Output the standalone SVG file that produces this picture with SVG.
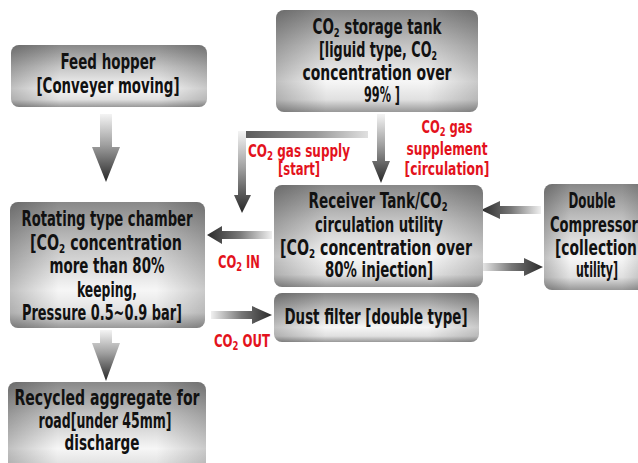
<svg xmlns="http://www.w3.org/2000/svg" width="638" height="463" viewBox="0 0 638 463">
<defs>
<linearGradient id="bv" x1="0" y1="0" x2="0" y2="1">
<stop offset="0" stop-color="#888"/>
<stop offset="0.35" stop-color="#c4c4c4"/>
<stop offset="0.7" stop-color="#f6f6f6"/>
<stop offset="0.88" stop-color="#e0e0e0"/>
<stop offset="1" stop-color="#989898"/>
</linearGradient>
<linearGradient id="bh" x1="0" y1="0" x2="1" y2="0">
<stop offset="0" stop-color="#000" stop-opacity="0.22"/>
<stop offset="0.25" stop-color="#000" stop-opacity="0"/>
<stop offset="0.75" stop-color="#000" stop-opacity="0"/>
<stop offset="1" stop-color="#000" stop-opacity="0.18"/>
</linearGradient>
<linearGradient id="adown" x1="0" y1="0" x2="0" y2="1">
<stop offset="0" stop-color="#f4f4f4"/>
<stop offset="0.45" stop-color="#a0a0a0"/>
<stop offset="1" stop-color="#262626"/>
</linearGradient>
<linearGradient id="aleft" x1="1" y1="0" x2="0" y2="0">
<stop offset="0" stop-color="#f0f0f0"/>
<stop offset="0.5" stop-color="#777"/>
<stop offset="1" stop-color="#2a2a2a"/>
</linearGradient>
<linearGradient id="aright" x1="0" y1="0" x2="1" y2="0">
<stop offset="0" stop-color="#f0f0f0"/>
<stop offset="0.5" stop-color="#777"/>
<stop offset="1" stop-color="#2a2a2a"/>
</linearGradient>
<linearGradient id="abar" x1="0" y1="0" x2="1" y2="0">
<stop offset="0" stop-color="#555"/>
<stop offset="0.6" stop-color="#999"/>
<stop offset="1" stop-color="#e0e0e0"/>
</linearGradient>
</defs>
<style>
.bx{fill:url(#bv)}
.sh{fill:url(#bh)}
.t{font-family:"Liberation Sans Narrow","DejaVu Sans Condensed","Liberation Sans",sans-serif;font-weight:bold;font-size:21px;fill:#111;text-anchor:middle}
.r{font-family:"Liberation Sans Narrow","DejaVu Sans Condensed","Liberation Sans",sans-serif;font-weight:bold;font-size:18px;fill:#e3121c;text-anchor:middle}
.s{font-size:13px}
</style>

<g id="connectors">
<polygon fill="url(#adown)" points="100,114 112,114 112,147 120,147 106,182 92,147 100,147"/>
<polygon fill="url(#adown)" points="377,114 385,114 385,161 390,161 381,183 372,161 377,161"/>
<rect x="238" y="131" width="130" height="7" fill="url(#abar)"/>
<polygon fill="url(#adown)" points="238,131 246,131 246,195 251,195 242,213 234,195 238,195"/>
<polygon fill="url(#aleft)" points="272,231 222,231 222,226 207,235 222,244 222,239 272,239"/>
<polygon fill="url(#aleft)" points="541,206 500,206 500,201 481,210 500,219 500,214 541,214"/>
<polygon fill="url(#aright)" points="480,263 524,263 524,258 543,267 524,276 524,271 480,271"/>
<polygon fill="url(#aright)" points="211,311 252,311 252,306 272,315 252,324 252,319 211,319"/>
<polygon fill="url(#adown)" points="100,330 112,330 112,343 120,343 106,381 92,343 100,343"/>
<text class="r" x="299" y="157" textLength="102" lengthAdjust="spacingAndGlyphs">CO<tspan class="s" dy="3">2</tspan><tspan dy="-3"> gas supply</tspan></text>
<text class="r" x="299" y="175" textLength="42" lengthAdjust="spacingAndGlyphs">[start]</text>
<text class="r" x="447" y="133" textLength="51" lengthAdjust="spacingAndGlyphs">CO<tspan class="s" dy="3">2</tspan><tspan dy="-3"> gas</tspan></text>
<text class="r" x="447" y="155" textLength="81" lengthAdjust="spacingAndGlyphs">supplement</text>
<text class="r" x="447" y="175" textLength="85" lengthAdjust="spacingAndGlyphs">[circulation]</text>
<text class="r" x="239" y="268" textLength="42" lengthAdjust="spacingAndGlyphs">CO<tspan class="s" dy="3">2</tspan><tspan dy="-3"> IN</tspan></text>
<text class="r" x="242" y="347" textLength="56" lengthAdjust="spacingAndGlyphs">CO<tspan class="s" dy="3">2</tspan><tspan dy="-3"> OUT</tspan></text>
</g>

<g id="feed-hopper">
<rect class="bx" x="11" y="45" width="196" height="62" rx="8"/>
<rect class="sh" x="11" y="45" width="196" height="62" rx="8"/>
<text class="t" x="108" y="69" textLength="95" lengthAdjust="spacingAndGlyphs">Feed hopper</text>
<text class="t" x="108" y="93" textLength="143" lengthAdjust="spacingAndGlyphs">[Conveyer moving]</text>
</g>

<g id="storage-tank">
<rect class="bx" x="276" y="10" width="202" height="102" rx="8"/>
<rect class="sh" x="276" y="10" width="202" height="102" rx="8"/>
<text class="t" x="377" y="34" textLength="129" lengthAdjust="spacingAndGlyphs">CO<tspan class="s" dy="3">2</tspan><tspan dy="-3"> storage tank</tspan></text>
<text class="t" x="378" y="57" textLength="118" lengthAdjust="spacingAndGlyphs">[liguid type, CO<tspan class="s" dy="3">2</tspan></text>
<text class="t" x="377" y="80" textLength="149" lengthAdjust="spacingAndGlyphs">concentration over</text>
<text class="t" x="382" y="102" textLength="36" lengthAdjust="spacingAndGlyphs">99% ]</text>
</g>

<g id="rotating-chamber">
<rect class="bx" x="10" y="202" width="195" height="126" rx="8"/>
<rect class="sh" x="10" y="202" width="195" height="126" rx="8"/>
<text class="t" x="107" y="226" textLength="171" lengthAdjust="spacingAndGlyphs">Rotating type chamber</text>
<text class="t" x="106" y="250" textLength="152" lengthAdjust="spacingAndGlyphs">[CO<tspan class="s" dy="3">2</tspan><tspan dy="-3"> concentration</tspan></text>
<text class="t" x="107" y="273" textLength="115" lengthAdjust="spacingAndGlyphs">more than 80%</text>
<text class="t" x="107" y="297" textLength="60" lengthAdjust="spacingAndGlyphs">keeping,</text>
<text class="t" x="102" y="320" textLength="160" lengthAdjust="spacingAndGlyphs">Pressure 0.5~0.9 bar]</text>
</g>

<g id="receiver-tank">
<rect class="bx" x="274" y="185" width="209" height="102" rx="8"/>
<rect class="sh" x="274" y="185" width="209" height="102" rx="8"/>
<text class="t" x="378" y="208" textLength="139" lengthAdjust="spacingAndGlyphs">Receiver Tank/CO<tspan class="s" dy="3">2</tspan></text>
<text class="t" x="379" y="232" textLength="128" lengthAdjust="spacingAndGlyphs">circulation utility</text>
<text class="t" x="376" y="255" textLength="192" lengthAdjust="spacingAndGlyphs">[CO<tspan class="s" dy="3">2</tspan><tspan dy="-3"> concentration over</tspan></text>
<text class="t" x="379" y="277" textLength="108" lengthAdjust="spacingAndGlyphs">80% injection]</text>
</g>

<g id="dust-filter">
<rect class="bx" x="274" y="293" width="205" height="49" rx="8"/>
<rect class="sh" x="274" y="293" width="205" height="49" rx="8"/>
<text class="t" x="376" y="324" textLength="183" lengthAdjust="spacingAndGlyphs">Dust filter [double type]</text>
</g>

<g id="double-compressor">
<rect class="bx" x="544" y="184" width="104" height="106" rx="8"/>
<rect class="sh" x="544" y="184" width="104" height="106" rx="8"/>
<text class="t" x="592" y="208" textLength="47" lengthAdjust="spacingAndGlyphs">Double</text>
<text class="t" x="594" y="232" textLength="88" lengthAdjust="spacingAndGlyphs">Compressor</text>
<text class="t" x="596" y="255" textLength="82" lengthAdjust="spacingAndGlyphs">[collection</text>
<text class="t" x="597" y="277" textLength="42" lengthAdjust="spacingAndGlyphs">utility]</text>
</g>

<g id="recycled-aggregate">
<rect class="bx" x="8" y="382" width="198" height="95" rx="8"/>
<rect class="sh" x="8" y="382" width="198" height="95" rx="8"/>
<text class="t" x="107" y="405" textLength="185" lengthAdjust="spacingAndGlyphs">Recycled aggregate for</text>
<text class="t" x="105" y="428" textLength="133" lengthAdjust="spacingAndGlyphs">road[under 45mm]</text>
<text class="t" x="102" y="450" textLength="75" lengthAdjust="spacingAndGlyphs">discharge</text>
</g>
</svg>
